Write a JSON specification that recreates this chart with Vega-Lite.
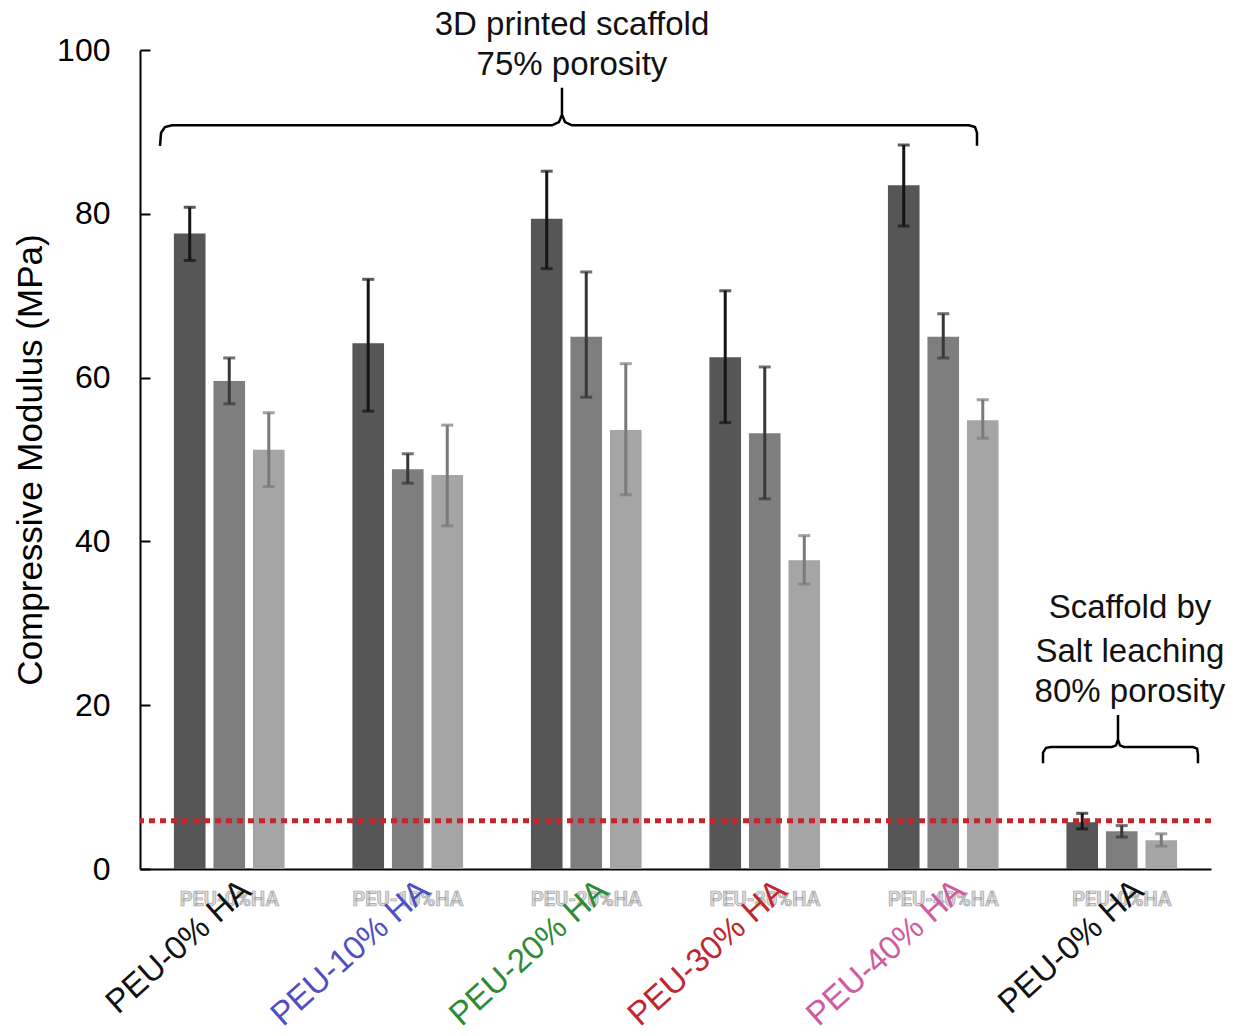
{
  "$schema": "https://vega.github.io/schema/vega-lite/v6.json",
  "width": 1071,
  "height": 819,
  "autosize": {"type": "none"},
  "padding": {"left": 140, "top": 50, "right": 36, "bottom": 167},
  "background": "white",
  "config": {"view": {"stroke": null}, "font": "Liberation Sans"},
  "datasets": {
    "bars": [
      {"key": "3D PEU-0% HA", "series": "1", "value": 77.6, "lo": 74.3, "hi": 80.8},
      {"key": "3D PEU-0% HA", "series": "2", "value": 59.6, "lo": 56.8, "hi": 62.4},
      {"key": "3D PEU-0% HA", "series": "3", "value": 51.2, "lo": 46.7, "hi": 55.7},
      {"key": "3D PEU-10% HA", "series": "1", "value": 64.2, "lo": 55.9, "hi": 72.0},
      {"key": "3D PEU-10% HA", "series": "2", "value": 48.8, "lo": 47.1, "hi": 50.7},
      {"key": "3D PEU-10% HA", "series": "3", "value": 48.1, "lo": 41.9, "hi": 54.2},
      {"key": "3D PEU-20% HA", "series": "1", "value": 79.4, "lo": 73.3, "hi": 85.2},
      {"key": "3D PEU-20% HA", "series": "2", "value": 65.0, "lo": 57.6, "hi": 72.9},
      {"key": "3D PEU-20% HA", "series": "3", "value": 53.6, "lo": 45.7, "hi": 61.7},
      {"key": "3D PEU-30% HA", "series": "1", "value": 62.5, "lo": 54.5, "hi": 70.6},
      {"key": "3D PEU-30% HA", "series": "2", "value": 53.2, "lo": 45.2, "hi": 61.3},
      {"key": "3D PEU-30% HA", "series": "3", "value": 37.7, "lo": 34.8, "hi": 40.7},
      {"key": "3D PEU-40% HA", "series": "1", "value": 83.5, "lo": 78.5, "hi": 88.4},
      {"key": "3D PEU-40% HA", "series": "2", "value": 65.0, "lo": 62.4, "hi": 67.8},
      {"key": "3D PEU-40% HA", "series": "3", "value": 54.8, "lo": 52.6, "hi": 57.3},
      {"key": "Salt PEU-0% HA", "series": "1", "value": 5.7, "lo": 4.9, "hi": 6.8},
      {"key": "Salt PEU-0% HA", "series": "2", "value": 4.6, "lo": 3.9, "hi": 5.3},
      {"key": "Salt PEU-0% HA", "series": "3", "value": 3.5, "lo": 2.8, "hi": 4.3}
    ],
    "groups": [
      {"key": "3D PEU-0% HA", "label": "PEU-0% HA", "ghost": "PEU-0%HA"},
      {"key": "3D PEU-10% HA", "label": "PEU-10% HA", "ghost": "PEU-10%HA"},
      {"key": "3D PEU-20% HA", "label": "PEU-20% HA", "ghost": "PEU-20%HA"},
      {"key": "3D PEU-30% HA", "label": "PEU-30% HA", "ghost": "PEU-30%HA"},
      {"key": "3D PEU-40% HA", "label": "PEU-40% HA", "ghost": "PEU-40%HA"},
      {"key": "Salt PEU-0% HA", "label": "PEU-0% HA", "ghost": "PEU-0%HA"}
    ],
    "threshold": [{"value": 5.9}],
    "brackets": [
      {"bracket": "3D", "i": 1, "x": 0.112, "y": 88.3},
      {"bracket": "3D", "i": 2, "x": 0.118, "y": 89.9},
      {"bracket": "3D", "i": 3, "x": 0.140, "y": 90.6},
      {"bracket": "3D", "i": 4, "x": 0.179, "y": 90.8},
      {"bracket": "3D", "i": 5, "x": 2.308, "y": 90.8},
      {"bracket": "3D", "i": 6, "x": 2.347, "y": 91.2},
      {"bracket": "3D", "i": 7, "x": 2.364, "y": 92.1},
      {"bracket": "3D", "i": 8, "x": 2.364, "y": 95.4},
      {"bracket": "3D", "i": 9, "x": 2.364, "y": 92.1},
      {"bracket": "3D", "i": 10, "x": 2.381, "y": 91.2},
      {"bracket": "3D", "i": 11, "x": 2.420, "y": 90.8},
      {"bracket": "3D", "i": 12, "x": 4.644, "y": 90.8},
      {"bracket": "3D", "i": 13, "x": 4.678, "y": 90.6},
      {"bracket": "3D", "i": 14, "x": 4.689, "y": 89.9},
      {"bracket": "3D", "i": 15, "x": 4.689, "y": 88.3},
      {"bracket": "Salt", "i": 1, "x": 5.059, "y": 12.9},
      {"bracket": "Salt", "i": 2, "x": 5.059, "y": 14.2},
      {"bracket": "Salt", "i": 3, "x": 5.076, "y": 14.8},
      {"bracket": "Salt", "i": 4, "x": 5.104, "y": 14.9},
      {"bracket": "Salt", "i": 5, "x": 5.445, "y": 14.9},
      {"bracket": "Salt", "i": 6, "x": 5.468, "y": 15.1},
      {"bracket": "Salt", "i": 7, "x": 5.479, "y": 15.8},
      {"bracket": "Salt", "i": 8, "x": 5.479, "y": 18.8},
      {"bracket": "Salt", "i": 9, "x": 5.479, "y": 15.8},
      {"bracket": "Salt", "i": 10, "x": 5.490, "y": 15.1},
      {"bracket": "Salt", "i": 11, "x": 5.513, "y": 14.9},
      {"bracket": "Salt", "i": 12, "x": 5.899, "y": 14.9},
      {"bracket": "Salt", "i": 13, "x": 5.922, "y": 14.7},
      {"bracket": "Salt", "i": 14, "x": 5.927, "y": 14.0},
      {"bracket": "Salt", "i": 15, "x": 5.927, "y": 12.9}
    ],
    "notes": [
      {"text": "3D printed scaffold", "x": 2.42, "y": 103.1},
      {"text": "75% porosity", "x": 2.42, "y": 98.2},
      {"text": "Scaffold by", "x": 5.546, "y": 31.9},
      {"text": "Salt leaching", "x": 5.546, "y": 26.5},
      {"text": "80% porosity", "x": 5.546, "y": 21.6}
    ]
  },
  "layer": [
    {
      "layer": [
        {
          "data": {"name": "bars"},
          "mark": {"type": "bar"},
          "encoding": {
            "x": {
              "field": "key", "type": "nominal",
              "scale": {
                "domain": ["3D PEU-0% HA", "3D PEU-10% HA", "3D PEU-20% HA", "3D PEU-30% HA", "3D PEU-40% HA", "Salt PEU-0% HA"],
                "paddingInner": 0.38, "paddingOuter": 0.19
              },
              "axis": {"title": null, "labels": false, "ticks": false, "domainColor": "black", "domainWidth": 2}
            },
            "xOffset": {"field": "series", "type": "nominal", "scale": {"paddingInner": 0.2, "paddingOuter": 0}},
            "y": {
              "field": "value", "type": "quantitative",
              "scale": {"domain": [0, 100], "nice": false},
              "axis": {
                "title": "Compressive Modulus (MPa)",
                "titleFontSize": 35, "titleFontWeight": "normal", "titleColor": "black",
                "titleX": -110, "titleY": 409.5, "titleAngle": 270,
                "titleBaseline": "middle", "titleAlign": "center",
                "values": [0, 20, 40, 60, 80, 100],
                "labelFontSize": 32, "labelColor": "black", "labelPadding": 40,
                "tickSize": -10, "tickWidth": 2, "tickColor": "black",
                "domainColor": "black", "domainWidth": 2, "grid": false
              }
            },
            "color": {"field": "series", "type": "nominal", "scale": {"range": ["#565656", "#7e7e7e", "#a5a5a5"]}, "legend": null}
          }
        },
        {
          "data": {"name": "bars"},
          "mark": {"type": "rule", "strokeWidth": 3},
          "encoding": {
            "x": {"field": "key", "type": "nominal"},
            "xOffset": {"field": "series", "type": "nominal"},
            "y": {"field": "lo", "type": "quantitative", "scale": {"domain": [0, 100], "nice": false}},
            "y2": {"field": "hi"},
            "color": {"field": "series", "type": "nominal", "scale": {"range": ["#151515", "#383838", "#7a7a7a"]}, "legend": null}
          }
        },
        {
          "data": {"name": "bars"},
          "mark": {"type": "tick", "size": 12, "thickness": 3},
          "encoding": {
            "x": {"field": "key", "type": "nominal"},
            "xOffset": {"field": "series", "type": "nominal"},
            "y": {"field": "hi", "type": "quantitative", "scale": {"domain": [0, 100], "nice": false}},
            "color": {"field": "series", "type": "nominal", "scale": {"range": ["#151515", "#383838", "#7a7a7a"]}, "legend": null}
          }
        },
        {
          "data": {"name": "bars"},
          "mark": {"type": "tick", "size": 12, "thickness": 3},
          "encoding": {
            "x": {"field": "key", "type": "nominal"},
            "xOffset": {"field": "series", "type": "nominal"},
            "y": {"field": "lo", "type": "quantitative", "scale": {"domain": [0, 100], "nice": false}},
            "color": {"field": "series", "type": "nominal", "scale": {"range": ["#151515", "#383838", "#7a7a7a"]}, "legend": null}
          }
        },
        {
          "data": {"name": "threshold"},
          "mark": {"type": "rule", "color": "#c4262e", "strokeWidth": 5, "strokeDash": [6, 5]},
          "encoding": {"y": {"field": "value", "type": "quantitative", "scale": {"domain": [0, 100], "nice": false}}}
        },
        {
          "data": {"name": "groups"},
          "mark": {"type": "text", "font": "Roboto", "fontWeight": "bold", "fontSize": 20, "fill": "#dadada", "stroke": "#a4a4a4", "strokeWidth": 0.7, "align": "center", "baseline": "middle", "yOffset": 31},
          "encoding": {
            "x": {"field": "key", "type": "nominal"},
            "y": {"datum": 0, "type": "quantitative", "scale": {"domain": [0, 100], "nice": false}},
            "text": {"field": "ghost"}
          }
        },
        {
          "data": {"name": "groups"},
          "mark": {"type": "text", "fontSize": 33, "angle": 318, "align": "right", "baseline": "middle", "xOffset": 17, "yOffset": 17},
          "encoding": {
            "x": {"field": "key", "type": "nominal"},
            "y": {"datum": 0, "type": "quantitative", "scale": {"domain": [0, 100], "nice": false}},
            "text": {"field": "label"},
            "color": {
              "field": "key", "type": "nominal",
              "scale": {
                "domain": ["3D PEU-0% HA", "3D PEU-10% HA", "3D PEU-20% HA", "3D PEU-30% HA", "3D PEU-40% HA", "Salt PEU-0% HA"],
                "range": ["#111111", "#4f4fc4", "#2f8a36", "#c0262d", "#cf5c9f", "#111111"]
              },
              "legend": null
            }
          }
        }
      ],
      "resolve": {"scale": {"color": "independent"}}
    },
    {
      "layer": [
        {
          "data": {"name": "brackets"},
          "mark": {"type": "line", "color": "black", "strokeWidth": 2.5},
          "encoding": {
            "x": {"field": "x", "type": "quantitative", "scale": {"domain": [0, 6], "nice": false, "zero": false}, "axis": null},
            "y": {"field": "y", "type": "quantitative", "scale": {"domain": [0, 100], "nice": false}},
            "detail": {"field": "bracket"},
            "order": {"field": "i", "type": "quantitative"}
          }
        },
        {
          "data": {"name": "notes"},
          "mark": {"type": "text", "fontSize": 33, "align": "center", "baseline": "middle", "color": "#111111"},
          "encoding": {
            "x": {"field": "x", "type": "quantitative", "scale": {"domain": [0, 6], "nice": false, "zero": false}, "axis": null},
            "y": {"field": "y", "type": "quantitative", "scale": {"domain": [0, 100], "nice": false}},
            "text": {"field": "text"}
          }
        }
      ]
    }
  ],
  "resolve": {"scale": {"x": "independent"}}
}
